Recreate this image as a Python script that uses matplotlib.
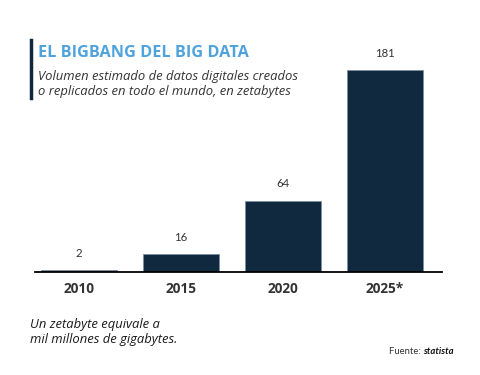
import matplotlib.pyplot as plt
from matplotlib.lines import Line2D

years = ["2010", "2015", "2020", "2025*"]
zetabytes = [2, 16, 64, 181]

navy = "#11293f"
blue = "#4fa3dc"

plt.rcParams['font.family'] = ['Open Sans', 'DejaVu Sans']

fig = plt.figure(figsize=(4.8, 3.75), dpi=100)
ax = fig.add_axes([0.073, 0.2747, 0.848, 0.595])

x = range(len(years))
bars = ax.bar(x, zetabytes, width=0.75, color=navy, edgecolor="#7d8fa3", linewidth=0.6)

# etiquetas de valor sobre cada barra
for b, v in zip(bars, zetabytes):
    ax.annotate(str(v), (b.get_x() + b.get_width() / 2, v), xytext=(0, 8),
                textcoords="offset points", ha="center", va="bottom",
                fontsize=8.2, color="#333333", family=['Lato', 'DejaVu Sans'])

ax.set_xlim(-0.43, 3.56)
ax.set_ylim(0, 200)
ax.set_xticks(list(x))
ax.set_xticklabels(years, fontsize=9.8, fontweight="bold", color="#333333")
ax.tick_params(axis="x", length=0, pad=7)
ax.set_yticks([])
for s in ["top", "right", "left"]:
    ax.spines[s].set_visible(False)
ax.spines["bottom"].set_linewidth(1.3)
ax.spines["bottom"].set_color("black")

# barra vertical junto al título
fig.add_artist(Line2D([0.064, 0.064], [0.738, 0.893], color=navy, linewidth=2.5))

fig.text(0.079, 0.858, "EL BIGBANG DEL BIG DATA", fontsize=11.7, fontweight="bold",
         color=blue, va="center")
fig.text(0.079, 0.777, "Volumen estimado de datos digitales creados\no replicados en todo el mundo, en zetabytes",
         fontsize=9.4, style="italic", color="#333333", va="center", linespacing=1.2)

fig.text(0.062, 0.115, "Un zetabyte equivale a\nmil millones de gigabytes.",
         fontsize=9.4, style="italic", color="#1a1a1a", va="center", linespacing=1.2)

fig.text(0.882, 0.062, "Fuente: ", fontsize=6.8, color="#333333", ha="right", va="center",
         family=['Lato', 'DejaVu Sans'])
fig.text(0.882, 0.062, "statista", fontsize=6.8, color="#111111", ha="left", va="center",
         style="italic", fontweight="bold", family=['Lato', 'DejaVu Sans'])

fig.savefig("out.png", dpi=100)
